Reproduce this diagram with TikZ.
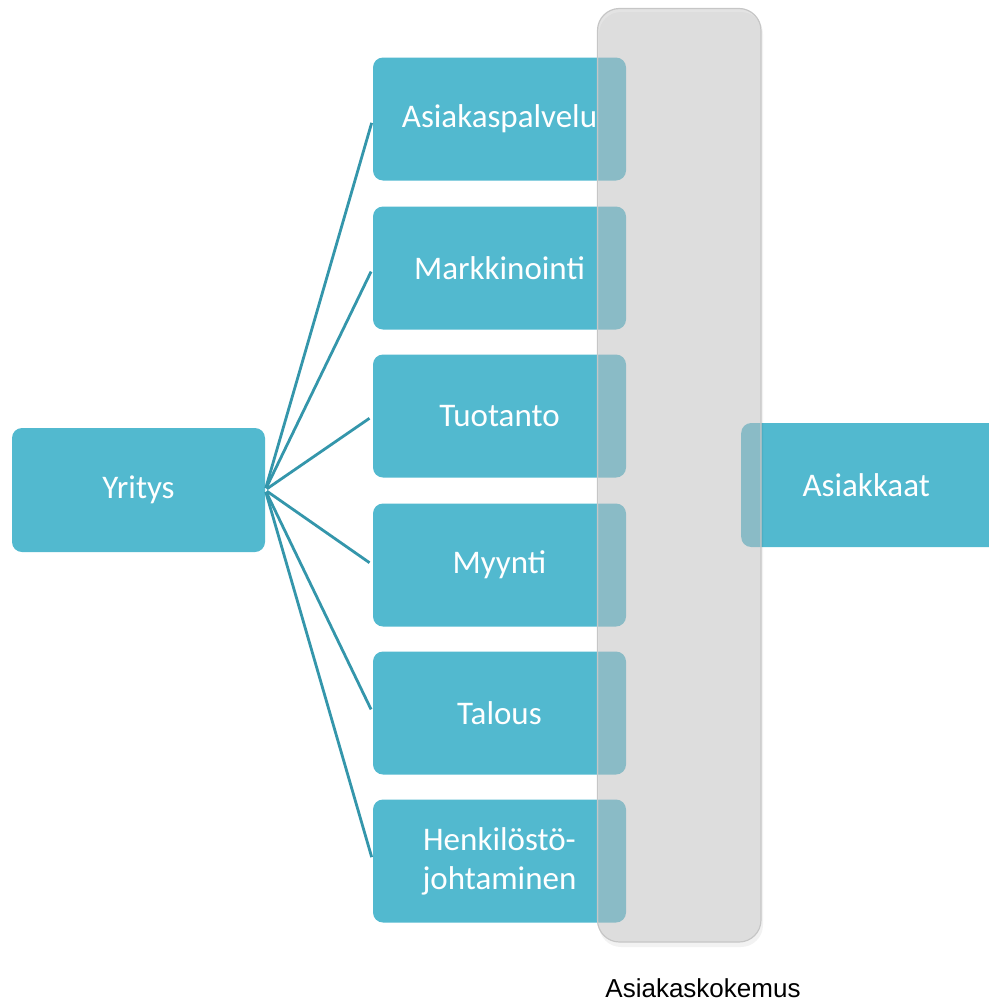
\documentclass[tikz,border=0pt]{standalone}
\usepackage{fontspec}
\setmainfont{Carlito}
\newfontfamily\labelfont{Liberation Sans}
\begin{document}
\begin{tikzpicture}[x=1pt,y=-1pt,
  tealbox/.style={fill=teal0, draw=none, rounded corners=10pt, text=white,
    font=\fontsize{33}{39}\selectfont, align=center, inner sep=0pt},
  link/.style={draw=tealline, line width=2.8pt, shorten >=4pt, shorten <=2pt},
  panel/.style={fill=panelgray, fill opacity=0.5, draw=panelborder, line width=1.2pt, rounded corners=22pt}
]
\definecolor{teal0}{RGB}{82,185,207}
\definecolor{tealline}{RGB}{52,150,171}
\definecolor{panelgray}{RGB}{200,200,200}
\definecolor{panelborder}{RGB}{198,198,198}

\useasboundingbox (0,0) rectangle (988,1001);

% company box
\node[tealbox, minimum width=253pt, minimum height=124pt] (yritys) at (138.5,490) {Yritys};

% functions
\foreach \name/\txt/\yc in {
  asp/Asiakaspalvelu/119,
  mark/Markkinointi/268,
  tuot/Tuotanto/416,
  myy/Myynti/565,
  tal/Talous/713,
  henk/{Henkilöstö-\\johtaminen}/861}{
  \node[tealbox, minimum width=253pt, minimum height=123pt] (\name) at (499.5,\yc) {\txt};
}

% customers
\node[tealbox, minimum width=260pt, minimum height=124pt, anchor=west] (asiakkaat) at (741,485) {\hspace*{-10pt}Asiakkaat};

% connectors
\foreach \name in {asp,mark,tuot,myy,tal,henk}{
  \draw[link] (yritys.east) -- (\name.west);
}

% customer experience panel with soft shadow
\fill[black, opacity=0.05, rounded corners=22pt] (599,12) rectangle (763,947);
\draw[panel] (597.5,8.5) rectangle (761,942);
\node[font=\labelfont\fontsize{26}{31}\selectfont, text=black, inner sep=0pt] (kokemus) at (703,988) {Asiakaskokemus};
\end{tikzpicture}
\end{document}
